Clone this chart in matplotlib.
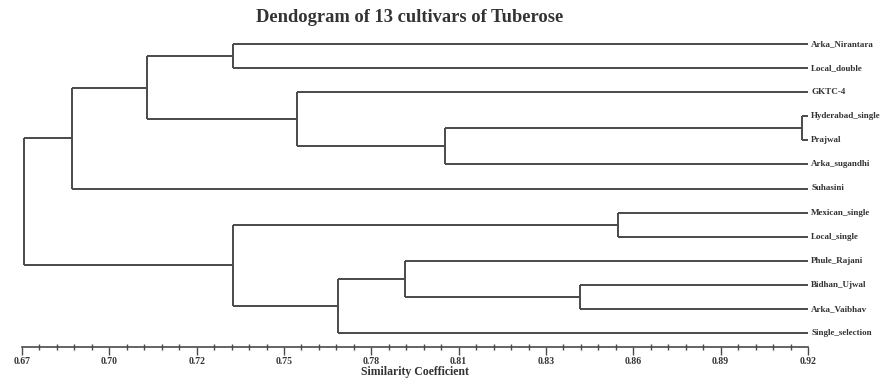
import numpy as np
import matplotlib.pyplot as plt

plt.rcParams['font.family'] = ['Liberation Serif', 'DejaVu Serif']

# leaves, top to bottom
cultivars = ['Arka_Nirantara', 'Local_double', 'GKTC-4', 'Hyderabad_single',
             'Prajwal', 'Arka_sugandhi', 'Suhasini', 'Mexican_single',
             'Local_single', 'Phule_Rajani', 'Bidhan_Ujwal', 'Arka_Vaibhav',
             'Single_selection']

# merges: (child a, child b, similarity); new clusters numbered from 13
merge_a = [3, 0, 13, 10, 7, 9, 2, 18, 14, 17, 21, 23]
merge_b = [4, 1, 5, 11, 8, 16, 15, 12, 19, 20, 6, 22]
merge_sim = [0.918, 0.737, 0.8045, 0.8475, 0.8596, 0.7918, 0.7575,
             0.7704, 0.7098, 0.737, 0.686, 0.6705]

tick_pos = np.linspace(0.67, 0.92, 10)
tick_text = ['0.67', '0.70', '0.72', '0.75', '0.78', '0.81', '0.83',
             '0.86', '0.89', '0.92']

fig = plt.figure(figsize=(8.83, 3.79), dpi=100)
ax = fig.add_axes([22 / 883, 32 / 379, 786 / 883, 317 / 379])

line_kw = dict(color='#4a4a4a', lw=1.4, solid_capstyle='butt')
xmax = 0.92
n = len(cultivars)
ys = {i: float(i) for i in range(n)}
xs = {i: xmax for i in range(n)}

for k, (a, b, s) in enumerate(zip(merge_a, merge_b, merge_sim)):
    node = n + k
    ax.plot([s, xs[a]], [ys[a], ys[a]], **line_kw)
    ax.plot([s, xs[b]], [ys[b], ys[b]], **line_kw)
    ax.plot([s, s], [ys[a], ys[b]], **line_kw)
    xs[node] = s
    ys[node] = (ys[a] + ys[b]) / 2

# labels sized so the longest name still fits inside the figure
for i, name in enumerate(cultivars):
    ax.text(xmax + 0.001, i, name, fontsize=6.5, fontweight='bold',
            color='#333333', va='center', ha='left', clip_on=False)

ax.set_xlim(0.67, 0.92)
ax.set_ylim(12.58, -0.58)
ax.set_yticks([])
for sp in ['top', 'right', 'left']:
    ax.spines[sp].set_visible(False)
ax.spines['bottom'].set_color('#4a4a4a')
ax.spines['bottom'].set_linewidth(1.2)

ax.set_xticks(tick_pos)
ax.set_xticklabels(tick_text, fontsize=7, fontweight='bold', color='#333333')
ax.set_xticks(np.linspace(0.67, 0.92, 46), minor=True)
ax.tick_params(axis='x', which='major', direction='out', length=6,
               width=1.0, color='#4a4a4a', pad=1)
ax.tick_params(axis='x', which='minor', direction='inout', length=5,
               width=1.0, color='#4a4a4a')
ax.set_xlabel('Similarity Coefficient', fontsize=8.5, fontweight='bold',
              color='#333333', labelpad=0)

fig.text(410 / 883, 1 - 18 / 379, 'Dendogram of 13 cultivars of Tuberose',
         fontsize=13.3, fontweight='bold', color='#333333',
         ha='center', va='center')

fig.savefig('out.png', dpi=100, facecolor='white')
